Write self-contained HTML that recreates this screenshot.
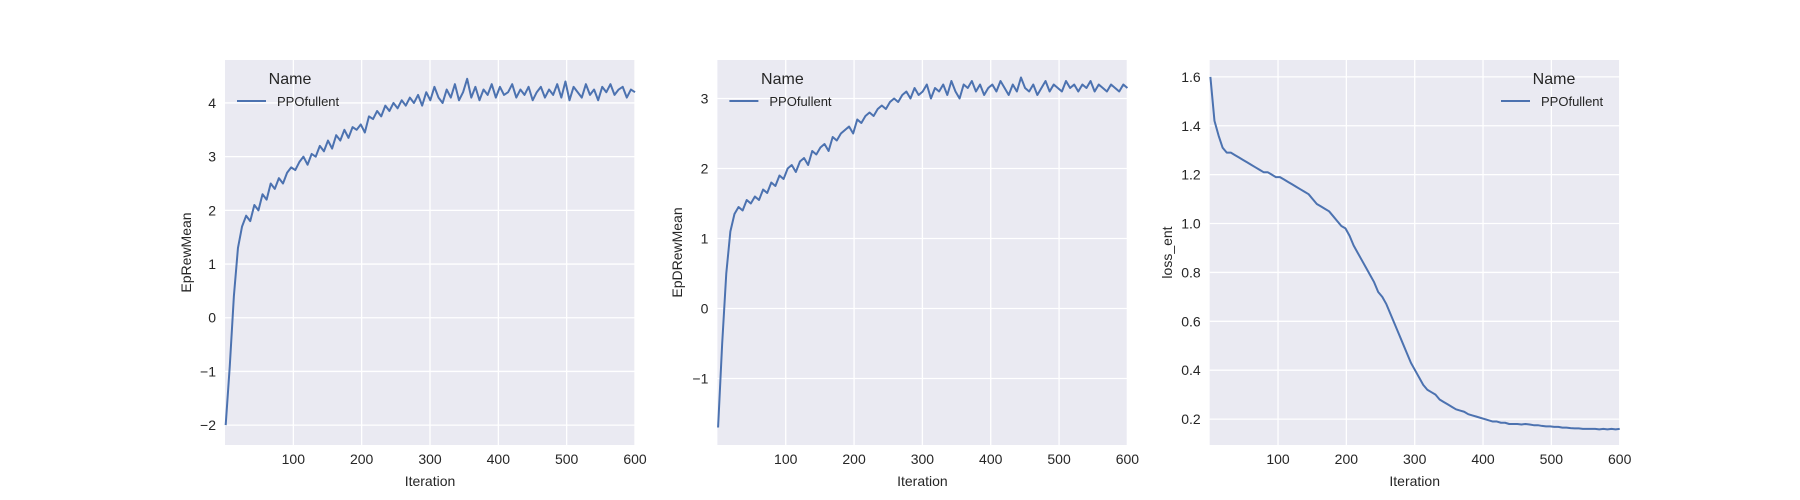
<!DOCTYPE html>
<html><head><meta charset="utf-8"><style>
html,body{margin:0;padding:0;background:#fff;}
svg{display:block;font-family:"Liberation Sans",Arial,sans-serif;}
</style></head><body>
<svg id="fig" width="1800" height="500" viewBox="0 0 1800 500" xmlns="http://www.w3.org/2000/svg"></svg>
<script>
const xTicks = [100, 200, 300, 400, 500, 600];
const y1Ticks = [-2, -1, 0, 1, 2, 3, 4];
const y2Ticks = [-1, 0, 1, 2, 3];
const y3Ticks = [0.2, 0.4, 0.6, 0.8, 1.0, 1.2, 1.4, 1.6];
const seriesName = "PPOfullent";
const rew = [-2.0,-0.9,0.4,1.3,1.7,1.9,1.8,2.1,2.0,2.3,2.2,2.5,2.4,2.6,2.5,2.7,2.8,2.75,2.9,3.0,2.85,3.05,3.0,3.2,3.1,3.3,3.15,3.4,3.3,3.5,3.35,3.55,3.5,3.6,3.45,3.75,3.7,3.85,3.75,3.95,3.85,4.0,3.9,4.05,3.95,4.1,4.0,4.15,3.95,4.2,4.05,4.3,4.1,4.0,4.25,4.1,4.35,4.05,4.2,4.45,4.1,4.3,4.05,4.25,4.15,4.35,4.1,4.3,4.15,4.2,4.35,4.1,4.25,4.15,4.3,4.05,4.2,4.3,4.1,4.25,4.15,4.35,4.1,4.4,4.05,4.3,4.2,4.1,4.35,4.15,4.25,4.05,4.3,4.2,4.35,4.15,4.25,4.3,4.1,4.25,4.2];
const drew = [-1.7,-0.5,0.5,1.1,1.35,1.45,1.4,1.55,1.5,1.6,1.55,1.7,1.65,1.8,1.75,1.9,1.85,2.0,2.05,1.95,2.1,2.15,2.05,2.25,2.2,2.3,2.35,2.25,2.45,2.4,2.5,2.55,2.6,2.5,2.7,2.65,2.75,2.8,2.75,2.85,2.9,2.85,2.95,3.0,2.95,3.05,3.1,3.0,3.15,3.05,3.1,3.2,3.0,3.15,3.1,3.2,3.05,3.25,3.1,3.0,3.2,3.15,3.25,3.1,3.2,3.05,3.15,3.2,3.1,3.25,3.15,3.05,3.2,3.1,3.3,3.15,3.1,3.2,3.05,3.15,3.25,3.1,3.2,3.15,3.1,3.25,3.15,3.2,3.1,3.2,3.15,3.25,3.1,3.2,3.15,3.1,3.2,3.15,3.1,3.2,3.15];
const ent = [1.6,1.42,1.36,1.31,1.29,1.29,1.28,1.27,1.26,1.25,1.24,1.23,1.22,1.21,1.21,1.20,1.19,1.19,1.18,1.17,1.16,1.15,1.14,1.13,1.12,1.10,1.08,1.07,1.06,1.05,1.03,1.01,0.99,0.98,0.95,0.91,0.88,0.85,0.82,0.79,0.76,0.72,0.70,0.67,0.63,0.59,0.55,0.51,0.47,0.43,0.40,0.37,0.34,0.32,0.31,0.30,0.28,0.27,0.26,0.25,0.24,0.235,0.23,0.22,0.215,0.21,0.205,0.20,0.195,0.19,0.19,0.185,0.185,0.18,0.18,0.18,0.178,0.18,0.178,0.175,0.175,0.172,0.17,0.17,0.168,0.168,0.165,0.165,0.163,0.162,0.162,0.16,0.16,0.16,0.16,0.158,0.16,0.158,0.16,0.158,0.16];

const NS = "http://www.w3.org/2000/svg";
const svg = document.getElementById('fig');
function mk(tag, attrs, parent) {
  const e = document.createElementNS(NS, tag);
  for (const k in attrs) e.setAttribute(k, attrs[k]);
  (parent || svg).appendChild(e);
  return e;
}
const TOP = 60, BOT = 445, W = 410;
function fmt(v, dec) { const s = v.toFixed(dec); return s.replace('-', '\u2212'); }

function panel(cfg) {
  const g = mk('g', {});
  
  
  const L = cfg.left, R = L + W;
  const xs = v => L + (v - 0) / 600 * W;
  const ys = v => BOT - (v - cfg.ymin) / (cfg.ymax - cfg.ymin) * (BOT - TOP);
  const bg = mk('rect', {x: L, y: TOP, width: W, height: BOT - TOP, fill: '#EAEAF2'}, g);
  
  
  xTicks.forEach(t => {
    const x = xs(t);
    const ln = mk('line', {x1: x, x2: x, y1: TOP, y2: BOT, stroke: '#fff', 'stroke-width': 1.3}, g);
    
    
    const tx = mk('text', {x: x, y: 464, 'text-anchor': 'middle', 'font-size': 14, fill: '#262626'}, g);
    tx.textContent = t;
    
    
  });
  cfg.ticks.forEach(t => {
    const y = ys(t);
    const ln = mk('line', {x1: L, x2: R, y1: y, y2: y, stroke: '#fff', 'stroke-width': 1.3}, g);
    
    
    const tx = mk('text', {x: L - 9, y: y + 5, 'text-anchor': 'end', 'font-size': 14, fill: '#262626'}, g);
    tx.textContent = fmt(t, cfg.dec);
    
    
  });
  const n = cfg.data.length;
  let d = '';
  cfg.data.forEach((v, i) => {
    const it = 1 + i * 599 / (n - 1);
    d += (i ? 'L' : 'M') + xs(it).toFixed(2) + ',' + ys(v).toFixed(2);
  });
  const p = mk('path', {d: d, fill: 'none', stroke: '#4C72B0', 'stroke-width': 2, 'stroke-linejoin': 'round'}, g);
  
  
  const xl = mk('text', {x: L + W / 2, y: 486, 'text-anchor': 'middle', 'font-size': 14, fill: '#262626'}, g);
  xl.textContent = 'Iteration';
  
  
  const yx = cfg.ylx, yy = (TOP + BOT) / 2;
  const yl = mk('text', {x: yx, y: yy, 'text-anchor': 'middle', 'font-size': 14, fill: '#262626', transform: `rotate(-90 ${yx} ${yy})`}, g);
  yl.textContent = cfg.ylabel;
  
  
  const lg = mk('g', {}, g);
  
  
  const lx = cfg.legX;
  const lt = mk('text', {x: lx + 53, y: 84, 'text-anchor': 'middle', 'font-size': 16, fill: '#262626'}, lg);
  lt.textContent = 'Name';
  
  
  const ll = mk('line', {x1: lx, x2: lx + 29, y1: 101, y2: 101, stroke: '#4C72B0', 'stroke-width': 2}, lg);
  
  
  const le = mk('text', {x: lx + 40, y: 106, 'font-size': 13, fill: '#262626'}, lg);
  le.textContent = seriesName;
  
  
}
panel({name: 'ep-rew-mean-panel', left: 225, ymin: -2.37, ymax: 4.80, ticks: y1Ticks, dec: 0, data: rew, ylabel: 'EpRewMean', ylx: 191, legX: 237});
panel({name: 'ep-drew-mean-panel', left: 717.4, ymin: -1.95, ymax: 3.55, ticks: y2Ticks, dec: 0, data: drew, ylabel: 'EpDRewMean', ylx: 682, legX: 729.4});
panel({name: 'loss-ent-panel', left: 1209.7, ymin: 0.094, ymax: 1.669, ticks: y3Ticks, dec: 1, data: ent, ylabel: 'loss_ent', ylx: 1172, legX: 1501});
</script>
</body></html>
